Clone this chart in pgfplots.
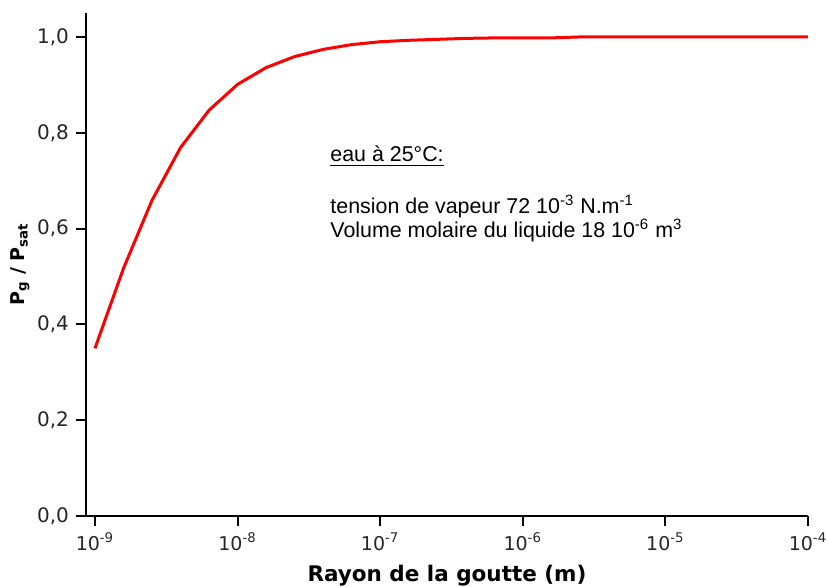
\documentclass[border=0pt]{standalone}
\usepackage{fontspec}
\setmainfont{DejaVu Sans}
\newfontfamily\annfont{Liberation Sans}
\usepackage{pgfplots}
\pgfplotsset{compat=1.18}

\pgfplotstableread{
r        ratio
1.000e-9 0.350
1.585e-9 0.517
2.512e-9 0.659
3.981e-9 0.769
6.310e-9 0.847
1.000e-8 0.901
1.585e-8 0.936
2.512e-8 0.959
3.981e-8 0.974
6.310e-8 0.984
1.000e-7 0.990
1.585e-7 0.993
2.512e-7 0.995
3.981e-7 0.997
6.310e-7 0.998
1.000e-6 0.998
1.585e-6 0.998
2.512e-6 1.000
3.981e-6 1.000
6.310e-6 1.000
1.000e-5 1.000
1.585e-5 1.000
2.512e-5 1.000
3.981e-5 1.000
6.310e-5 1.000
1.000e-4 1.000
}\kelvin

\begin{document}
\begin{tikzpicture}
\begin{axis}[
  scale only axis,width=361pt,height=251.5pt,
  xmode=log,log basis x=10,
  xmin=8.65e-10,xmax=1e-4,ymin=0,ymax=1.05,
  axis x line*=bottom,axis y line*=left,
  axis line style={line width=1pt,black},
  tick align=outside,major tick length=5pt,minor tick length=0pt,
  tick style={line width=1pt,black},
  xtick={1e-9,1e-8,1e-7,1e-6,1e-5,1e-4},
  xticklabels={10\textsuperscript{-9},10\textsuperscript{-8},10\textsuperscript{-7},
    10\textsuperscript{-6},10\textsuperscript{-5},10\textsuperscript{-4}},
  ytick={0,0.2,0.4,0.6,0.8,1.0},
  xticklabel style={font=\fontsize{9.5}{11}\selectfont,text=black!85},
  yticklabel style={font=\fontsize{10}{12}\selectfont,text=black!85,
    /pgf/number format/.cd,use comma,fixed,fixed zerofill,precision=1,
    assume math mode=true},
  xlabel={\textbf{Rayon de la goutte (m)}},
  ylabel={\textbf{P\textsubscript{g} / P\textsubscript{sat}}},
  xlabel style={font=\fontsize{10.75}{12}\selectfont,yshift=-0.5pt},
  ylabel style={font=\fontsize{9.5}{11}\selectfont,yshift=-3pt},
  clip=false,
]
\addplot[red,line width=1.5pt,no marks,line join=round] table[x=r,y=ratio] {\kelvin};
\node[anchor=base west,font=\annfont\fontsize{10.7}{12}\selectfont,inner sep=0pt]
  at (axis cs:4.45e-8,0.739) {\underline{eau à 25°C:}};
\node[anchor=base west,font=\annfont\fontsize{10.7}{12}\selectfont,inner sep=0pt]
  at (axis cs:4.45e-8,0.632) {tension de vapeur 72 10\textsuperscript{-3} N.m\textsuperscript{-1}};
\node[anchor=base west,font=\annfont\fontsize{10.7}{12}\selectfont,inner sep=0pt]
  at (axis cs:4.45e-8,0.582) {Volume molaire du liquide 18 10\textsuperscript{-6} m\textsuperscript{3}};
\end{axis}
\pgfresetboundingbox
\path ([shift={(-43pt,-35.5pt)}]current axis.south west)
  rectangle ([shift={(10pt,6.5pt)}]current axis.north east);
\end{tikzpicture}
\end{document}
